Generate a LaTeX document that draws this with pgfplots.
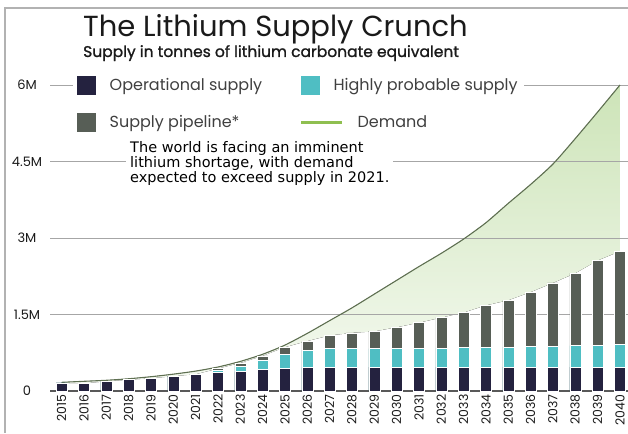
\documentclass[border=0pt]{standalone}
\usepackage{fontspec}
\setmainfont{Poppins}
\newfontfamily\annfont{DejaVu Sans}
\newfontfamily\subfont{Poppins}[FakeBold=1.2]
\usepackage{pgfplots}
\usepackage{pgfplotstable}
\pgfplotsset{compat=1.18}
\usepgfplotslibrary{fillbetween}
\definecolor{opcol}{HTML}{24223F}
\definecolor{tealcol}{HTML}{4FBEC3}
\definecolor{pipecol}{HTML}{575E56}
\definecolor{demline}{HTML}{5F7052}
\definecolor{legline}{HTML}{8FBF50}
\definecolor{fillg}{HTML}{CDE4B8}
\definecolor{txt}{HTML}{1A1A1A}

\pgfplotstableread{
year op teal total demand
2015 0.16 0.16 0.16 0.17
2016 0.15 0.15 0.15 0.19
2017 0.19 0.19 0.19 0.21
2018 0.22 0.22 0.22 0.24
2019 0.25 0.25 0.25 0.28
2020 0.29 0.29 0.29 0.33
2021 0.33 0.33 0.33 0.39
2022 0.36 0.40 0.44 0.47
2023 0.38 0.48 0.55 0.58
2024 0.42 0.60 0.69 0.72
2025 0.44 0.72 0.86 0.90
2026 0.46 0.80 0.98 1.13
2027 0.47 0.83 1.09 1.38
2028 0.47 0.83 1.14 1.63
2029 0.47 0.83 1.17 1.90
2030 0.47 0.83 1.25 2.17
2031 0.47 0.84 1.34 2.44
2032 0.47 0.84 1.44 2.70
2033 0.47 0.85 1.54 2.98
2034 0.47 0.86 1.68 3.30
2035 0.47 0.86 1.78 3.68
2036 0.47 0.88 1.94 4.05
2037 0.47 0.88 2.12 4.45
2038 0.47 0.89 2.31 4.95
2039 0.47 0.90 2.56 5.47
2040 0.47 0.91 2.74 6.00
}\datatable

\begin{document}
\begin{tikzpicture}
\begin{axis}[
  set layers,
  scale only axis,
  width=578pt, height=321.3pt,
  xmin=2014.478, xmax=2040.36,
  ymin=0, ymax=6.3,
  axis line style={draw=none},
  major tick length=0pt,
  /pgf/number format/assume math mode=true,
  /pgf/number format/1000 sep={},
  ytick={1.5,3,4.5,6},
  yticklabels={1.5M,3M,4.5M,6M},
  extra y ticks={0},
  extra y tick labels={0},
  extra y tick style={grid style={black!65, line width=1.3pt}},
  ymajorgrids,
  grid style={black!35, line width=0.8pt},
  yticklabel style={anchor=center, xshift=-23pt, font=\fontsize{13}{13}\selectfont, text=txt},
  xtick={2015,...,2040},
  xticklabel style={rotate=90, anchor=east, font=\fontsize{12.5}{12.5}\selectfont, text=txt},
  legend columns=2,
  legend cell align=left,
  legend style={at={(0.04,0.9875)}, anchor=north west, draw=none, fill=white,
    font=\fontsize{16}{16}\selectfont, text=black!75,
    row sep=19pt, inner xsep=4pt, inner ysep=2pt,
    /tikz/every odd column/.append style={column sep=12pt},
    /tikz/every even column/.append style={column sep=37pt}},
]
\addplot[name path=dem, draw=demline, line width=1.1pt, smooth, tension=0.4, forget plot] table[x=year,y=demand]{\datatable};
\addplot[name path=sup, draw=none, forget plot] table[x=year,y=total]{\datatable};
\addplot[forget plot, top color=fillg, bottom color=fillg!20!white] fill between[of=dem and sup, on layer=axis background];

\addplot[ybar, bar width=11pt, bar shift=0pt, fill=pipecol, draw=white, line width=0.6pt, forget plot] table[x=year,y=total]{\datatable};
\addplot[ybar, bar width=11pt, bar shift=0pt, fill=tealcol, draw=white, line width=0.6pt, forget plot] table[x=year,y=teal]{\datatable};
\addplot[ybar, bar width=11pt, bar shift=0pt, fill=opcol, draw=white, line width=0.6pt, forget plot] table[x=year,y=op]{\datatable};

\addlegendimage{legend image code/.code={\fill[opcol] (0pt,-9pt) rectangle (18pt,9pt);}}
\addlegendentry{Operational supply}
\addlegendimage{legend image code/.code={\fill[tealcol] (0pt,-9pt) rectangle (18pt,9pt);}}
\addlegendentry{Highly probable supply}
\addlegendimage{legend image code/.code={\fill[pipecol] (0pt,-9pt) rectangle (18pt,9pt);}}
\addlegendentry{Supply pipeline*}
\addlegendimage{legend image code/.code={\path[draw=none, fill=none] (0pt,-9pt) rectangle (18pt,9pt); \draw[legline, line width=2.5pt, overlay] (0pt,0pt) -- (41pt,0pt);}}
\addlegendentry{\hspace*{24pt}Demand}
\end{axis}
\draw[black!30, line width=1.5pt] (-45pt,-42pt) -- (-45pt,383pt) -- (578pt,383pt);
\node[anchor=base west, inner sep=0pt, text=txt, font=\fontsize{29}{29}\selectfont] at (33pt,354pt) {The Lithium Supply Crunch};
\node[anchor=base west, inner sep=0pt, text=txt, font=\subfont\fontsize{15.5}{15.5}\selectfont] at (33pt,334pt) {Supply in tonnes of lithium carbonate equivalent};
\node[anchor=north west, fill=white, inner sep=4pt, align=left, text=black, font=\annfont\fontsize{14.5}{13.5}\selectfont] at (76pt,254pt) {The world is facing an imminent\\lithium shortage, with demand\\expected to exceed supply in 2021.};
\pgfresetboundingbox
\path[use as bounding box] (-50pt,-42pt) rectangle (578pt,391pt);
\end{tikzpicture}
\end{document}
